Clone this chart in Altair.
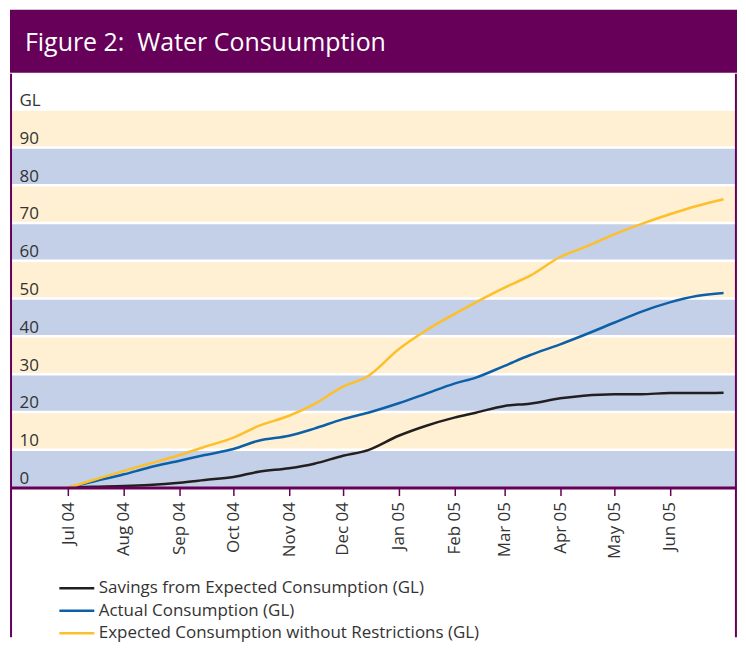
import altair as alt
import pandas as pd

FONT = "Open Sans"
PURPLE = "#660058"
BAND_BLUE = "#c4d0e7"
BAND_BEIGE = "#fff0d3"
TEXT = "#333333"

TITLE = "Figure 2:\u00a0 Water Consuumption"
SERIES = [
    "Savings from Expected Consumption (GL)",
    "Actual Consumption (GL)",
    "Expected Consumption without Restrictions (GL)",
]
COLORS = ["#231f20", "#0b60a8", "#fdbf2a"]

DATES = ["2004-07-01", "2004-07-15", "2004-08-01", "2004-08-15", "2004-09-01",
         "2004-09-15", "2004-10-01", "2004-10-15", "2004-11-01", "2004-11-15",
         "2004-12-01", "2004-12-15", "2005-01-01", "2005-01-16", "2005-02-01",
         "2005-02-13", "2005-03-01", "2005-03-15", "2005-04-01", "2005-04-14",
         "2005-05-01", "2005-05-16", "2005-06-01", "2005-06-16", "2005-07-01"]
SAVINGS = [0, 0.2, 0.4, 0.7, 1.3, 2.0, 2.8, 4.2, 5.1, 6.3, 8.4, 9.9, 13.7, 16.3,
           18.5, 19.8, 21.6, 22.2, 23.6, 24.3, 24.7, 24.7, 25.0, 25.0, 25.1]
ACTUAL = [0, 1.6, 3.5, 5.3, 7.1, 8.6, 10.2, 12.4, 13.7, 15.6, 18.1, 19.8, 22.3, 24.8,
          27.5, 29.1, 32.2, 35.0, 37.9, 40.3, 43.6, 46.5, 49.0, 50.7, 51.5]
EXPECTED = [0, 2.0, 4.4, 6.3, 8.6, 10.8, 13.2, 16.3, 19.0, 22.1, 26.7, 29.5, 36.6, 41.5,
            45.9, 49.0, 52.9, 56.0, 61.0, 63.5, 67.0, 69.7, 72.3, 74.5, 76.3]

BAND_LO = [0, 10, 20, 30, 40, 50, 60, 70, 80, 90]
SEPARATORS = [10, 20, 30, 40, 50, 60, 70, 80, 90, 100]
Y_TICKS = [0, 10, 20, 30, 40, 50, 60, 70, 80, 90, 100]
MONTHS = [(2004, 7), (2004, 8), (2004, 9), (2004, 10), (2004, 11), (2004, 12),
          (2005, 1), (2005, 2), (2005, 3), (2005, 4), (2005, 5), (2005, 6)]
X_START = "2004-05-30T01:30:00"
X_END = "2005-07-07T22:00:00"

rows = []
for name, vals in zip(SERIES, [SAVINGS, ACTUAL, EXPECTED]):
    for d, v in zip(DATES, vals):
        rows.append({"date": d + "T00:00:00", "series": name, "value": v})
df = pd.DataFrame(rows)

band_df = pd.DataFrame({
    "lo": BAND_LO,
    "hi": [b + 10 for b in BAND_LO],
    "kind": ["blue" if i % 2 == 0 else "beige" for i in range(len(BAND_LO))],
})
sep_df = pd.DataFrame({"v": SEPARATORS})
frame_df = pd.DataFrame({"d": ["2004-05-30T02:00:00", "2005-07-07T21:00:00"]})

W = 727
H = 565

yscale = alt.Scale(domain=[0, 100], range=[415, 36], nice=False, zero=True)
yaxis = alt.Axis(values=Y_TICKS, labelExpr="datum.value == 100 ? 'GL' : datum.label",
                 orient="left", domain=False, ticks=False, tickSize=0, grid=False,
                 offset=-8, labelPadding=0, labelAlign="left", labelBaseline="alphabetic",
                 labelOffset=-4, labelFontSize=17, labelFont=FONT, labelColor=TEXT,
                 zindex=1, title=None)
xscale = alt.Scale(domain=[X_START, X_END])
xaxis = alt.Axis(values=[alt.DateTime(year=y, month=m, date=1) for y, m in MONTHS],
                 format="%b %y", labelAngle=270, offset=-(H - 415), grid=False,
                 domainColor=PURPLE, domainWidth=3, tickColor=PURPLE, tickWidth=1.5,
                 tickSize=8, labelPadding=6, labelFontSize=17, labelFont=FONT,
                 labelColor=TEXT, zindex=1, title=None)

blue_bands = alt.Chart(band_df).transform_filter("datum.kind == 'blue'").mark_rect(
    color=BAND_BLUE).encode(y=alt.Y("lo:Q", scale=yscale, axis=yaxis), y2="hi:Q")
beige_bands = alt.Chart(band_df).transform_filter("datum.kind == 'beige'").mark_rect(
    color=BAND_BEIGE).encode(y=alt.Y("lo:Q", scale=yscale, axis=yaxis), y2="hi:Q")
seps = alt.Chart(sep_df).mark_rule(color="white", strokeWidth=2.5).encode(
    y=alt.Y("v:Q", scale=yscale, axis=yaxis))
frame = alt.Chart(frame_df).mark_rule(color=PURPLE, strokeWidth=2).encode(
    x=alt.X("d:T", scale=xscale, axis=xaxis))

lines = alt.Chart(df).mark_line(strokeWidth=2.5, interpolate="monotone").encode(
    x=alt.X("date:T", scale=xscale, axis=xaxis),
    y=alt.Y("value:Q", scale=yscale, axis=yaxis),
    color=alt.Color("series:N", sort=SERIES,
                    scale=alt.Scale(domain=SERIES, range=COLORS),
                    legend=alt.Legend(orient="none", legendX=56, legendY=569, title=None,
                                      symbolType="M-2.06,0H2.06", symbolSize=289,
                                      symbolStrokeWidth=2.5, labelFontSize=17,
                                      labelFont=FONT, labelColor=TEXT, padding=0,
                                      labelOffset=12, labelLimit=600, rowPadding=4.5,
                                      direction="vertical")),
    order=alt.Order("date:T"),
)

main = alt.layer(blue_bands, beige_bands, seps, frame, lines).properties(
    width=W, height=H,
    view=alt.ViewBackground(fill="white", stroke=None),
)

title_df = pd.DataFrame({"t": [TITLE]})
title_panel = alt.Chart(title_df).mark_text(
    align="left", baseline="alphabetic", font=FONT, fontSize=25, color="white"
).encode(text="t:N", x=alt.value(14), y=alt.value(40)).properties(
    width=W, height=61,
    view=alt.ViewBackground(fill=PURPLE, stroke=PURPLE, strokeWidth=2),
)

chart = alt.vconcat(title_panel, main, spacing=0).properties(
    padding={"left": 1, "top": 1, "right": 0, "bottom": 0},
    background="white",
)

chart.save("out.html", embed_options={"renderer": "svg", "actions": False})
